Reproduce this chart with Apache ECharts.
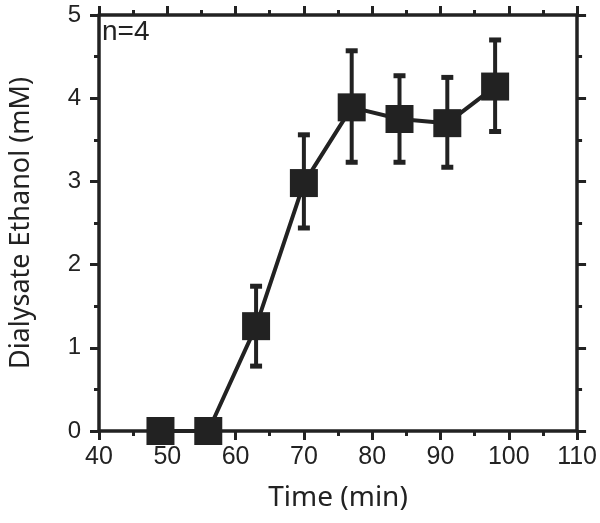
<!DOCTYPE html>
<html><head><meta charset="utf-8">
<script src="https://cdn.jsdelivr.net/npm/echarts@6/dist/echarts.min.js"></script>
<style>html,body{margin:0;padding:0;background:#fff}#c{width:600px;height:523px}</style>
</head><body><div id="c"></div>
<script>
const times = [49, 56, 63, 70, 77, 84, 91, 98];
const ethanol = [0, 0, 1.26, 2.98, 3.89, 3.75, 3.70, 4.14];
const errLow = [0, 0, 0.48, 0.54, 0.66, 0.52, 0.53, 0.54];
const errHigh = [0, 0, 0.48, 0.58, 0.68, 0.52, 0.55, 0.56];
const xTicks = [40, 50, 60, 70, 80, 90, 100, 110];
const yTicks = [0, 1, 2, 3, 4, 5];

const C = '#222';
const lineData = times.map((t, i) => [t, ethanol[i]]);
const errData = times.map((t, i) => [t, ethanol[i] - errLow[i], ethanol[i] + errHigh[i]]);

const axisCommon = {
  axisLine: {onZero: false, lineStyle: {color: C, width: 3.5}},
  axisTick: {length: 9, lineStyle: {color: C, width: 3}},
  minorTick: {show: true, splitNumber: 2, length: 5, lineStyle: {color: C, width: 3}},
  splitLine: {show: false}
};

const chart = echarts.init(document.getElementById('c'));
chart.setOption({
  animation: false,
  grid: {left: 97, right: 22, top: 15, bottom: 92},
  xAxis: [
    Object.assign({
      type: 'value', min: xTicks[0], max: xTicks[xTicks.length - 1], interval: 10,
      position: 'bottom',
      axisLabel: {fontSize: 25, color: C, margin: 14, fontFamily: 'Liberation Sans'},
      name: 'Time (min)', nameLocation: 'middle', nameGap: 53,
      nameTextStyle: {fontSize: 28, color: C, fontFamily: 'Noto Sans'}
    }, axisCommon),
    Object.assign({
      type: 'value', min: xTicks[0], max: xTicks[xTicks.length - 1], interval: 10,
      position: 'top', axisLabel: {show: false}
    }, axisCommon)
  ],
  yAxis: [
    Object.assign({
      type: 'value', min: yTicks[0], max: yTicks[yTicks.length - 1], interval: 1,
      position: 'left',
      axisLabel: {fontSize: 24, color: C, margin: 18, fontFamily: 'Liberation Sans'},
      name: 'Dialysate Ethanol (mM)', nameLocation: 'middle', nameGap: 64,
      nameTextStyle: {fontSize: 27, color: C, fontFamily: 'Noto Sans'}
    }, axisCommon),
    Object.assign({
      type: 'value', min: yTicks[0], max: yTicks[yTicks.length - 1], interval: 1,
      position: 'right', axisLabel: {show: false}
    }, axisCommon)
  ],
  graphic: [{
    type: 'text', left: 102, top: 18,
    style: {text: 'n=4', fontSize: 28, fill: C, fontFamily: 'Liberation Sans'}
  }],
  series: [
    {
      type: 'custom',
      data: errData,
      z: 3,
      renderItem: function (params, api) {
        const x = api.value(0);
        const lo = api.coord([x, api.value(1)]);
        const hi = api.coord([x, api.value(2)]);
        if (Math.abs(lo[1] - hi[1]) < 1) return null;
        const hw = 6;
        const st = {stroke: C, lineWidth: 4};
        const cap = {stroke: C, lineWidth: 5};
        return {
          type: 'group',
          children: [
            {type: 'line', shape: {x1: lo[0], y1: lo[1], x2: hi[0], y2: hi[1]}, style: st},
            {type: 'line', shape: {x1: hi[0] - hw, y1: hi[1], x2: hi[0] + hw, y2: hi[1]}, style: cap},
            {type: 'line', shape: {x1: lo[0] - hw, y1: lo[1], x2: lo[0] + hw, y2: lo[1]}, style: cap}
          ]
        };
      }
    },
    {
      type: 'line',
      data: lineData,
      z: 4,
      symbol: 'rect',
      symbolSize: 28,
      showAllSymbol: true,
      clip: false,
      lineStyle: {color: C, width: 4},
      itemStyle: {color: C}
    }
  ]
});
</script>
</body></html>
